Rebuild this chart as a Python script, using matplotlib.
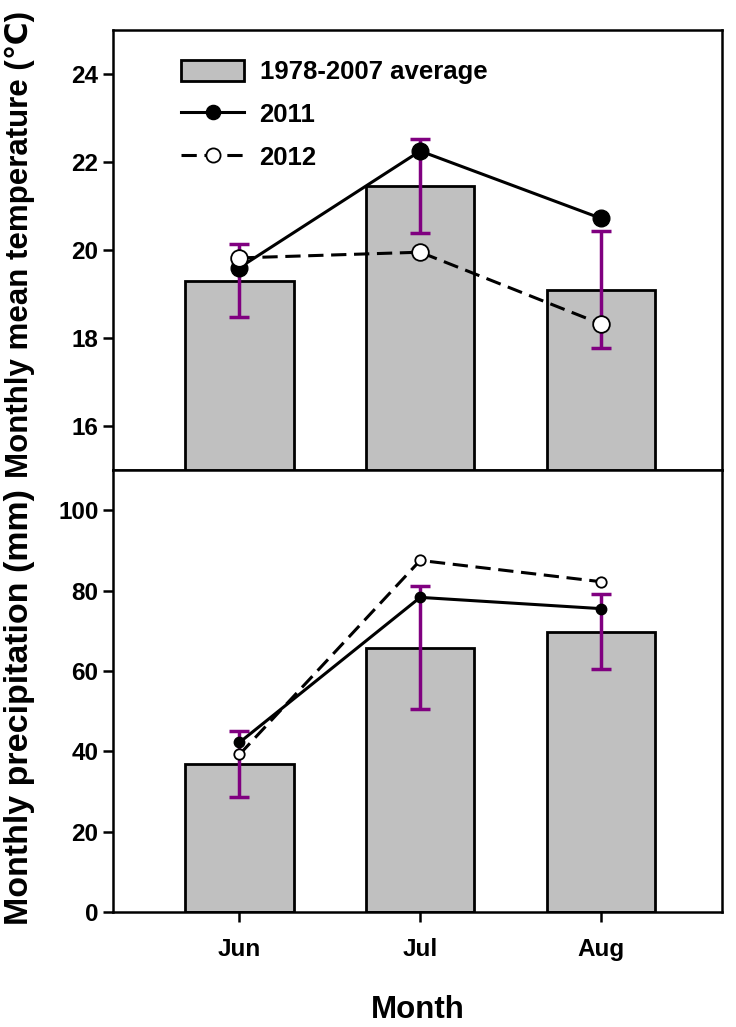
import matplotlib
matplotlib.use("Agg")
import matplotlib.pyplot as plt
import numpy as np

plt.rcParams['font.family'] = ['Liberation Sans', 'DejaVu Sans']
plt.rcParams['font.weight'] = 'bold'

months = ["Jun", "Jul", "Aug"]

# temperature (deg C)
tempAvg = [19.3, 21.45, 19.1]
tempErr = [0.83, 1.07, 1.33]
temp2011 = [19.6, 22.25, 20.72]
temp2012 = [19.82, 19.95, 18.32]

# precipitation (mm)
precAvg = [36.8, 65.8, 69.8]
precErr = [8.2, 15.4, 9.3]
prec2011 = [42.2, 78.3, 75.5]
prec2012 = [39.2, 87.5, 82.2]

purple = "#800080"
x = np.arange(len(months))

fig = plt.figure(figsize=(7.36, 10.27), dpi=100)
W, H = 736, 1027
left, right = 113 / W, 722 / W
axT = fig.add_axes([left, 1 - 470 / H, right - left, 440 / H])
axB = fig.add_axes([left, 1 - 912 / H, right - left, 442 / H])


def panel(ax, avg, err, y1, y2, ms):
    b = ax.bar(x, avg, width=0.6, color="#c0c0c0", edgecolor="black", linewidth=2,
               zorder=2)
    ax.errorbar(x, avg, yerr=err, fmt="none", ecolor=purple, elinewidth=2.5,
                capsize=7, capthick=2.5, zorder=3)
    l1, = ax.plot(x, y1, "-", color="black", lw=2.2, marker="o", ms=ms,
                  mfc="black", mec="black", zorder=4)
    l2, = ax.plot(x, y2, "--", color="black", lw=2.2, dashes=(5, 2.5), marker="o", ms=ms,
                  mfc="white", mec="black", mew=1.3, zorder=5)
    ax.set_xlim(-0.7, 2.67)
    for s in ax.spines.values():
        s.set_linewidth(1.8)
    ax.tick_params(axis="y", direction="out", length=7, width=1.8, labelsize=17.5)
    return b, l1, l2


hb, h1, h2 = panel(axT, tempAvg, tempErr, temp2011, temp2012, 12)
panel(axB, precAvg, precErr, prec2011, prec2012, 7.5)

axT.set_ylim(15, 25)
axT.set_yticks([16, 18, 20, 22, 24])
axT.set_xticks([])
axB.set_ylim(0, 110)
axB.set_yticks([0, 20, 40, 60, 80, 100])
axB.set_xticks(x)
axB.set_xticklabels(months)
axB.tick_params(axis="x", direction="out", length=7, width=1.8, labelsize=17.5, pad=12)

fig.text(20 / W, 1 - 245 / H, "Monthly mean temperature (℃)", rotation=90,
         ha="center", va="center", fontsize=22.5, fontweight="bold")
fig.text(20 / W, 1 - 707 / H, "Monthly precipitation (mm)", rotation=90,
         ha="center", va="center", fontsize=24.5, fontweight="bold")
fig.text((113 + 722) / 2 / W, 1 - 1010 / H, "Month", ha="center", va="center",
         fontsize=22.5, fontweight="bold")

axT.legend([hb, h1, h2], ["1978-2007 average", "2011", "2012"],
           loc="upper left", bbox_to_anchor=(0.095, 0.955), frameon=False,
           fontsize=18.5, handlelength=2.45, handleheight=0.85, labelspacing=0.72,
           handletextpad=0.6, markerscale=0.85, borderaxespad=0)

plt.savefig("out.png", dpi=100)
